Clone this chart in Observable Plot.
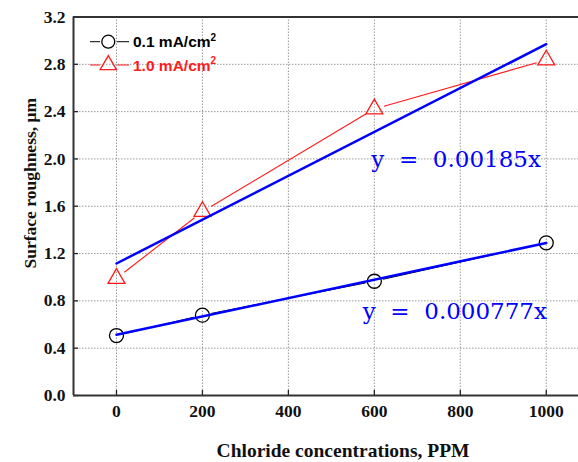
<!DOCTYPE html>
<html>
<head>
<meta charset="utf-8">
<script src="https://cdn.jsdelivr.net/npm/d3@7"></script>
<script src="https://cdn.jsdelivr.net/npm/@observablehq/plot@0.6"></script>
<style>
  html, body { margin: 0; padding: 0; background: white; overflow: hidden; }
</style>
</head>
<body>
<div id="chart"></div>
<script>
// ---- data ----
const concentrations = [0, 200, 600, 1000];
const rough01 = [0.507, 0.679, 0.966, 1.291];   // 0.1 mA/cm2
const rough10 = [0.99, 1.555, 2.423, 2.836];    // 1.0 mA/cm2
const fitX = [0, 1000];
const fit01 = [0.513, 1.29];
const fit10 = [1.116, 2.97];
const xTicks = [0, 200, 400, 600, 800, 1000];
const yTicks = [0, 0.4, 0.8, 1.2, 1.6, 2.0, 2.4, 2.8, 3.2];
const seriesLabels = ["0.1 mA/cm", "1.0 mA/cm"];
const equations = ["y\u00a0\u00a0=\u00a0\u00a00.00185x", "y\u00a0\u00a0=\u00a0\u00a00.000777x"];
const eqX = [593, 573];
const eqY = [1.99, 0.71];
const xLabel = "Chloride concentrations, PPM";
const yLabel = "Surface roughness, \u03bcm";

const pts01 = concentrations.map((c, i) => ({x: c, y: rough01[i]}));
const pts10 = concentrations.map((c, i) => ({x: c, y: rough10[i]}));
const segs01 = d3.pairs(pts01);
const segs10 = d3.pairs(pts10);
const eqs = equations.map((t, i) => ({t, x: eqX[i], y: eqY[i]}));

const W = 578, H = 462, mL = 73, mR = 0, mT = 16.5, mB = 67;
const plotW = W - mL - mR, plotH = H - mT - mB;

function legend(index, scales, values, dim) {
  const g = d3.create("svg:g");
  const x0 = dim.marginLeft;
  const t0 = dim.marginTop;
  const rows = [
    {label: seriesLabels[0], color: "black", sym: "circle", cy: t0 + 25.2},
    {label: seriesLabels[1], color: "#ff1a1a", sym: "triangle", cy: t0 + 48.5}
  ];
  for (const r of rows) {
    const cx = x0 + 35.3;
    g.append("line").attr("x1", x0 + 17).attr("x2", x0 + 27).attr("y1", r.cy).attr("y2", r.cy)
      .attr("stroke", r.color).attr("stroke-width", 1);
    g.append("line").attr("x1", x0 + 44).attr("x2", x0 + 56).attr("y1", r.cy).attr("y2", r.cy)
      .attr("stroke", r.color).attr("stroke-width", 1);
    if (r.sym === "circle") {
      g.append("circle").attr("cx", cx).attr("cy", r.cy).attr("r", 6.5)
        .attr("fill", "none").attr("stroke", r.color).attr("stroke-width", 1.3);
    } else {
      g.append("path").attr("transform", `translate(${cx},${r.cy})`)
        .attr("d", d3.symbol(d3.symbolTriangle, 115)())
        .attr("fill", "none").attr("stroke", r.color).attr("stroke-width", 1.3);
    }
    const txt = g.append("text").attr("x", x0 + 60).attr("y", r.cy + 5.5)
      .attr("text-anchor", "start")
      .attr("fill", r.color).attr("font-family", "Liberation Sans, Arial, sans-serif")
      .attr("font-weight", "bold").attr("font-size", 15.5);
    txt.append("tspan").text(r.label);
    txt.append("tspan").attr("dy", -6.5).attr("font-size", 10).text("2");
  }
  return g.node();
}

const chart = Plot.plot({
  width: W, height: H,
  marginLeft: mL, marginRight: mR, marginTop: mT, marginBottom: mB,
  style: {background: "white", fontFamily: "Liberation Serif, Times New Roman, serif", overflow: "visible"},
  x: {domain: [-100, 1075]},
  y: {domain: [0, 3.2]},
  marks: [
    Plot.gridX(xTicks, {stroke: "#9a9a9a", strokeOpacity: 1, strokeWidth: 1, strokeDasharray: "1.5,1.5"}),
    Plot.gridY(yTicks.filter(d => d > 0 && d < 3.2), {stroke: "#9a9a9a", strokeOpacity: 1, strokeWidth: 1, strokeDasharray: "1.5,1.5"}),
    Plot.tickX(xTicks, {x: d => d, stroke: "#222", strokeWidth: 1.3, insetTop: plotH - 5}),
    Plot.tickY(yTicks, {y: d => d, stroke: "#222", strokeWidth: 1.3, insetRight: plotW - 5}),
    Plot.axisX(xTicks, {tickSize: 0, tickPadding: 9.5, fontSize: 17.5, fontWeight: "bold", fill: "#111", label: null, tickFormat: d3.format("d")}),
    Plot.axisY(yTicks, {tickSize: 0, tickPadding: 8, fontSize: 17.5, fontWeight: "bold", fill: "#111", label: null, tickFormat: d => d.toFixed(1)}),
    Plot.ruleX([-100], {stroke: "#333", strokeWidth: 2}),
    Plot.ruleY([0, 3.2], {stroke: "#333", strokeWidth: 2}),
    // data lines with gaps around symbols
    Plot.arrow(segs01, {x1: d => d[0].x, y1: d => d[0].y, x2: d => d[1].x, y2: d => d[1].y,
      stroke: "black", strokeWidth: 1, headLength: 0, inset: 9, strokeLinecap: "butt"}),
    Plot.arrow(segs10, {x1: d => d[0].x, y1: d => d[0].y, x2: d => d[1].x, y2: d => d[1].y,
      stroke: "#ff1a1a", strokeWidth: 1.1, headLength: 0, inset: 10, strokeLinecap: "butt"}),
    Plot.dot(pts01, {x: "x", y: "y", r: 7, symbol: "circle", stroke: "black", strokeWidth: 1.3, fill: "none"}),
    Plot.dot(pts10, {x: "x", y: "y", r: 6.3, symbol: "triangle", stroke: "#ff1a1a", strokeWidth: 1.3, fill: "none"}),
    // linear fits
    Plot.line(fitX, {x: d => d, y: (d, i) => fit10[i], stroke: "#0000ff", strokeWidth: 2.5}),
    Plot.line(fitX, {x: d => d, y: (d, i) => fit01[i], stroke: "#0000ff", strokeWidth: 2.5}),
    Plot.text(eqs, {x: "x", y: "y", text: "t", textAnchor: "start", fill: "#0000ff", fontSize: 23, fontFamily: "DejaVu Serif"}),
    // axis titles
    Plot.text([xLabel], {frameAnchor: "bottom", textAnchor: "middle", lineAnchor: "middle", dx: 17, dy: 55, fontSize: 19.5, fontWeight: "bold", fill: "#111"}),
    Plot.text([yLabel], {frameAnchor: "left", textAnchor: "middle", lineAnchor: "middle", dx: -43, dy: -23, rotate: -90, fontSize: 17.5, fontWeight: "bold", fill: "#111"}),
    legend
  ]
});
document.getElementById("chart").appendChild(chart);
</script>
</body>
</html>
